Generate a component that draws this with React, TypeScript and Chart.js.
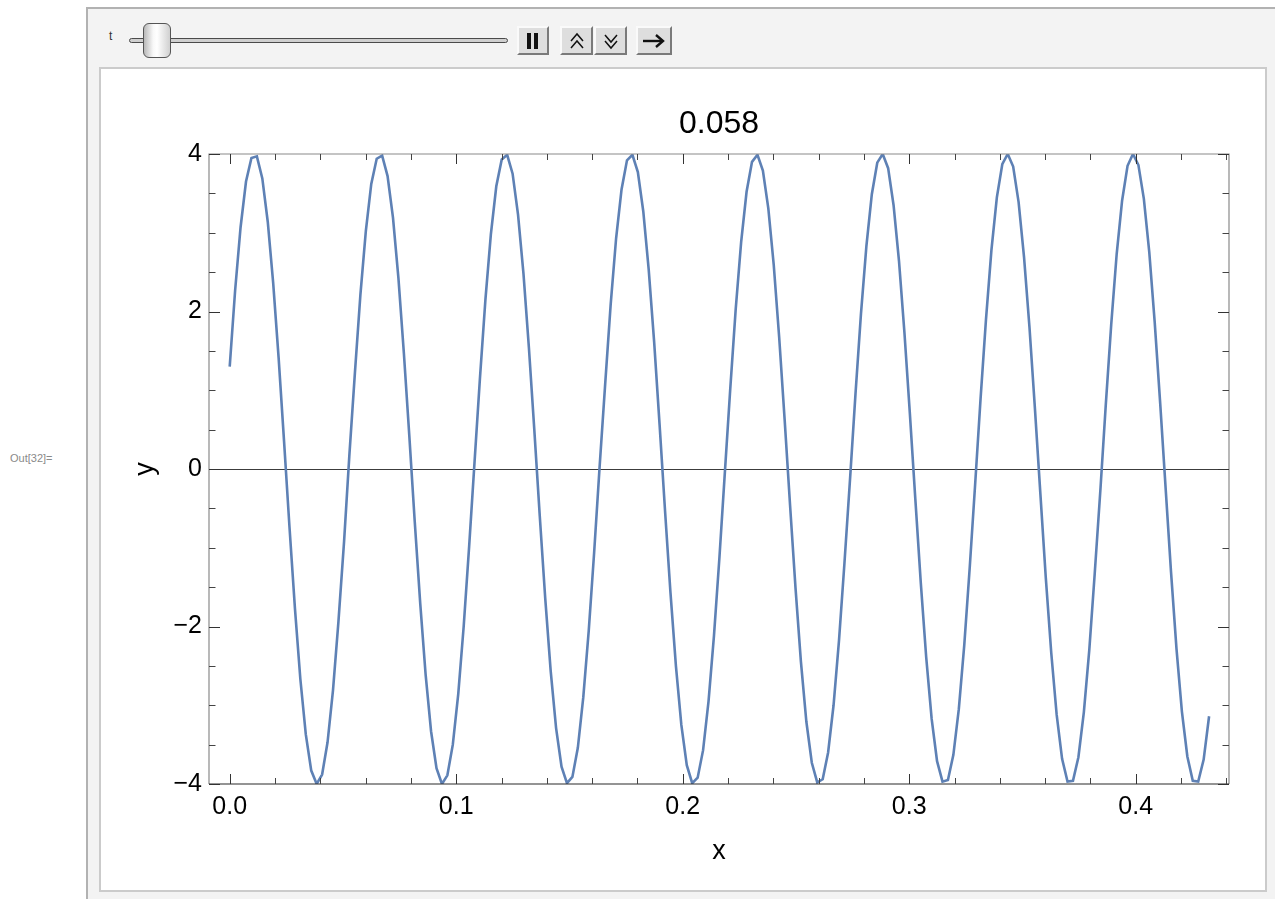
import React, { useEffect, useRef } from 'react';
import { Chart, registerables } from 'chart.js';

Chart.register(...registerables);

const FONT = '"Liberation Sans", Arial, Helvetica, sans-serif';

const TITLE = '0.058';
const X_LABEL = 'x';
const Y_LABEL = 'y';
const OUT_LABEL = 'Out[32]=';
const SLIDER_LABEL = 't';

// sample positions along x
const xValues = [
  0, 0.0024, 0.0048, 0.0072, 0.0096, 0.012, 0.0144, 0.0168, 0.0192, 0.0216,
  0.024, 0.0264, 0.0288, 0.0312, 0.0336, 0.036, 0.0384, 0.0408, 0.0432, 0.0456,
  0.048, 0.0505, 0.0528, 0.0553, 0.0577, 0.0601, 0.0625, 0.0649, 0.0673, 0.0697,
  0.0721, 0.0745, 0.0769, 0.0793, 0.0817, 0.0841, 0.0865, 0.0889, 0.0913, 0.0937,
  0.0961, 0.0985, 0.1009, 0.1033, 0.1057, 0.1081, 0.1105, 0.1129, 0.1153, 0.1177,
  0.1201, 0.1225, 0.1249, 0.1273, 0.1297, 0.1321, 0.1345, 0.1369, 0.1393, 0.1417,
  0.1441, 0.1465, 0.1489, 0.1513, 0.1537, 0.1561, 0.1585, 0.1609, 0.1633, 0.1658,
  0.1682, 0.1706, 0.173, 0.1754, 0.1778, 0.1802, 0.1826, 0.185, 0.1874, 0.1898,
  0.1922, 0.1946, 0.197, 0.1994, 0.2018, 0.2042, 0.2066, 0.209, 0.2114, 0.2138,
  0.2162, 0.2186, 0.221, 0.2234, 0.2258, 0.2282, 0.2306, 0.233, 0.2354, 0.2378,
  0.2402, 0.2426, 0.245, 0.2474, 0.2498, 0.2522, 0.2546, 0.257, 0.2594, 0.2618,
  0.2642, 0.2666, 0.269, 0.2714, 0.2739, 0.2763, 0.2787, 0.2811, 0.2835, 0.2859,
  0.2883, 0.2907, 0.2931, 0.2955, 0.2979, 0.3003, 0.3027, 0.3051, 0.3075, 0.3099,
  0.3123, 0.3147, 0.3171, 0.3195, 0.3219, 0.3243, 0.3267, 0.3291, 0.3315, 0.3339,
  0.3363, 0.3387, 0.3411, 0.3435, 0.3459, 0.3483, 0.3507, 0.3531, 0.3555, 0.3579,
  0.3603, 0.3627, 0.3651, 0.3675, 0.3699, 0.3723, 0.3747, 0.3771, 0.3795, 0.3819,
  0.3844, 0.3868, 0.3892, 0.3916, 0.394, 0.3964, 0.3988, 0.4012, 0.4036, 0.406,
  0.4084, 0.4108, 0.4132, 0.4156, 0.418, 0.4204, 0.4228, 0.4252, 0.4276, 0.43,
  0.4324,
];

// y values
const yValues = [
  1.3, 2.27, 3.07, 3.65, 3.95, 3.97, 3.69, 3.14, 2.36, 1.41,
  0.35, -0.74, -1.77, -2.67, -3.37, -3.83, -4.0, -3.88, -3.47, -2.81,
  -1.94, -0.92, 0.16, 1.23, 2.21, 3.02, 3.62, 3.94, 3.98, 3.72,
  3.19, 2.42, 1.47, 0.42, -0.67, -1.7, -2.61, -3.33, -3.8, -4.0,
  -3.89, -3.5, -2.86, -2.0, -0.99, 0.09, 1.16, 2.15, 2.98, 3.59,
  3.93, 3.99, 3.75, 3.23, 2.48, 1.54, 0.49, -0.6, -1.64, -2.56,
  -3.29, -3.78, -3.99, -3.91, -3.54, -2.9, -2.06, -1.06, 0.02, 1.09,
  2.09, 2.93, 3.55, 3.92, 3.99, 3.77, 3.27, 2.53, 1.61, 0.56,
  -0.53, -1.57, -2.5, -3.25, -3.76, -3.99, -3.92, -3.57, -2.95, -2.12,
  -1.13, -0.05, 1.02, 2.03, 2.88, 3.52, 3.9, 3.99, 3.79, 3.31,
  2.59, 1.67, 0.63, -0.46, -1.51, -2.45, -3.21, -3.73, -3.98, -3.94,
  -3.6, -3.0, -2.18, -1.2, -0.12, 0.96, 1.97, 2.83, 3.49, 3.89,
  4.0, 3.82, 3.35, 2.64, 1.73, 0.7, -0.38, -1.44, -2.39, -3.17,
  -3.71, -3.97, -3.95, -3.63, -3.05, -2.24, -1.26, -0.2, 0.89, 1.9,
  2.78, 3.45, 3.87, 4.0, 3.84, 3.39, 2.69, 1.8, 0.77, -0.31,
  -1.38, -2.33, -3.12, -3.68, -3.97, -3.96, -3.66, -3.09, -2.3, -1.33,
  -0.27, 0.82, 1.84, 2.73, 3.41, 3.85, 4.0, 3.86, 3.43, 2.75,
  1.86, 0.84, -0.24, -1.31, -2.28, -3.08, -3.65, -3.96, -3.97, -3.69,
  -3.14,
];

const xMajorTicks = [0, 0.1, 0.2, 0.3, 0.4];
const xMinorTicks = [
  0.02, 0.04, 0.06, 0.08, 0.12, 0.14, 0.16, 0.18, 0.22, 0.24, 0.26, 0.28,
  0.32, 0.34, 0.36, 0.38, 0.42, 0.44,
];
const yMajorTicks = [-4, -2, 0, 2, 4];
const yMinorTicks = [-3.5, -3, -2.5, -1.5, -1, -0.5, 0.5, 1, 1.5, 2.5, 3, 3.5];

const X_MIN = -0.00914;
const X_MAX = 0.44119;
const Y_MIN = -4;
const Y_MAX = 4;

const framePlugin = {
  id: 'mmaFrame',
  beforeDatasetsDraw(chart: any) {
    const { ctx, chartArea: a, scales } = chart;
    const y0 = Math.round(scales.y.getPixelForValue(0)) + 0.5;
    ctx.save();
    ctx.strokeStyle = '#3c3c3c';
    ctx.lineWidth = 1;
    ctx.beginPath();
    ctx.moveTo(a.left, y0);
    ctx.lineTo(a.right, y0);
    ctx.stroke();
    ctx.restore();
  },
  afterDatasetsDraw(chart: any) {
    const { ctx, chartArea: a, scales } = chart;
    const xs = scales.x;
    const ys = scales.y;
    ctx.save();
    ctx.lineWidth = 1.2;
    ctx.strokeStyle = '#8a8a8a';
    ctx.beginPath();
    ctx.moveTo(a.left, a.bottom);
    ctx.lineTo(a.left, a.top);
    ctx.lineTo(a.right, a.top);
    ctx.lineTo(a.right, a.bottom);
    ctx.stroke();
    ctx.strokeStyle = '#2a2a2a';
    ctx.beginPath();
    ctx.moveTo(a.left, a.bottom);
    ctx.lineTo(a.right, a.bottom);
    ctx.stroke();

    ctx.lineWidth = 1;
    const tickX = (v: number, len: number, color: string) => {
      const px = Math.round(xs.getPixelForValue(v)) + 0.5;
      ctx.strokeStyle = color;
      ctx.beginPath();
      ctx.moveTo(px, a.bottom);
      ctx.lineTo(px, a.bottom - len);
      ctx.moveTo(px, a.top);
      ctx.lineTo(px, a.top + len);
      ctx.stroke();
    };
    const tickY = (v: number, len: number, color: string) => {
      const py = Math.round(ys.getPixelForValue(v)) + 0.5;
      ctx.strokeStyle = color;
      ctx.beginPath();
      ctx.moveTo(a.left, py);
      ctx.lineTo(a.left + len, py);
      ctx.moveTo(a.right, py);
      ctx.lineTo(a.right - len, py);
      ctx.stroke();
    };
    xMajorTicks.forEach((v) => tickX(v, 10, '#333'));
    xMinorTicks.forEach((v) => tickX(v, 6, '#444'));
    yMajorTicks.forEach((v) => tickY(v, 11, '#333'));
    yMinorTicks.forEach((v) => tickY(v, 6.5, '#444'));
    ctx.restore();
  },
};

function ChevronIcon({ dir }: { dir: 'up' | 'down' }) {
  const pts1 = dir === 'up' ? '6,12 12,5 18,12' : '6,6 12,13 18,6';
  const pts2 = dir === 'up' ? '6,19 12,12 18,19' : '6,12 12,19 18,12';
  return (
    <svg width={24} height={24} viewBox="0 0 24 24">
      <polyline points={pts1} fill="none" stroke="#111" strokeWidth={1.5} />
      <polyline points={pts2} fill="none" stroke="#111" strokeWidth={1.5} />
    </svg>
  );
}

const btnStyle = (left: number, width: number): React.CSSProperties => ({
  position: 'absolute',
  left,
  top: 26,
  width,
  height: 29,
  boxSizing: 'border-box',
  background: '#dedede',
  borderTop: '2px solid #fafafa',
  borderLeft: '2px solid #fafafa',
  borderRight: '2px solid #7a7a7a',
  borderBottom: '2px solid #7a7a7a',
  display: 'flex',
  alignItems: 'center',
  justifyContent: 'center',
});

export default function App() {
  const canvasRef = useRef<HTMLCanvasElement>(null);

  useEffect(() => {
    const canvas = canvasRef.current;
    if (!canvas) return;
    const points = xValues.map((x, i) => ({ x, y: yValues[i] }));
    const chart = new Chart(canvas, {
      type: 'line',
      data: {
        datasets: [
          {
            data: points,
            borderColor: '#5e81b5',
            borderWidth: 2.6,
            pointRadius: 0,
            tension: 0,
            fill: false,
          },
        ],
      },
      options: {
        responsive: false,
        animation: false,
        events: [],
        layout: { padding: { left: 0, top: 0, right: 46, bottom: 0 } },
        plugins: {
          legend: { display: false },
          tooltip: { enabled: false },
          title: {
            display: true,
            text: TITLE,
            fullSize: false,
            color: '#000',
            font: { family: FONT, size: 32, weight: 'normal' },
            padding: { top: 104.5, bottom: 11.1 },
          },
        },
        scales: {
          x: {
            type: 'linear',
            min: X_MIN,
            max: X_MAX,
            afterFit: (s: any) => {
              s.height = 115;
            },
            afterBuildTicks: (s: any) => {
              s.ticks = xMajorTicks.map((v) => ({ value: v }));
            },
            grid: { display: false, drawTicks: false },
            border: { display: false },
            ticks: {
              autoSkip: false,
              maxRotation: 0,
              padding: 8,
              color: '#000',
              font: { family: FONT, size: 25 },
              callback: (v: any) => Number(v).toFixed(1),
            },
            title: {
              display: true,
              text: X_LABEL,
              color: '#000',
              font: { family: FONT, size: 27 },
              padding: { top: 0, bottom: 31.5 },
            },
          },
          y: {
            type: 'linear',
            min: Y_MIN,
            max: Y_MAX,
            afterFit: (s: any) => {
              s.width = 209;
            },
            afterBuildTicks: (s: any) => {
              s.ticks = yMajorTicks.map((v) => ({ value: v }));
            },
            grid: { display: false, drawTicks: false },
            border: { display: false },
            ticks: {
              autoSkip: false,
              padding: 7,
              color: '#000',
              font: { family: FONT, size: 25 },
              callback: (v: any) => {
                const n = Number(v);
                return n < 0 ? '\u2212' + Math.abs(n) : String(n);
              },
            },
            title: {
              display: true,
              text: Y_LABEL,
              color: '#000',
              font: { family: FONT, size: 27 },
              padding: { top: 129.5, bottom: 0 },
            },
          },
        },
      },
      plugins: [framePlugin],
    } as any);
    return () => chart.destroy();
  }, []);

  return (
    <div
      style={{
        position: 'fixed',
        left: 0,
        top: 0,
        width: 1275,
        height: 899,
        background: '#ffffff',
        overflow: 'hidden',
        fontFamily: FONT,
      }}
    >
      <div
        style={{
          position: 'absolute',
          left: 10,
          top: 452,
          fontSize: 11,
          color: '#8a8a8a',
          whiteSpace: 'nowrap',
        }}
      >
        {OUT_LABEL}
      </div>
      <div
        style={{
          position: 'absolute',
          left: 86,
          top: 7,
          width: 1220,
          height: 920,
          boxSizing: 'border-box',
          background: '#f3f3f3',
          borderLeft: '2px solid #b2b2b2',
          borderTop: '2px solid #b2b2b2',
        }}
      />
      <div style={{ position: 'absolute', left: 109, top: 29, fontSize: 12, color: '#333333' }}>
        {SLIDER_LABEL}
      </div>
      <div
        style={{
          position: 'absolute',
          left: 129,
          top: 38,
          width: 379,
          height: 5,
          boxSizing: 'border-box',
          border: '1px solid #4a4a4a',
          borderRadius: 3,
          background: '#cfcfcf',
        }}
      />
      <div
        style={{
          position: 'absolute',
          left: 143,
          top: 23,
          width: 28,
          height: 35,
          boxSizing: 'border-box',
          border: '1px solid #555',
          borderRadius: 6,
          background: 'linear-gradient(to right, #b8b8b8 0%, #f8f8f8 35%, #ffffff 50%, #d0d0d0 100%)',
        }}
      />
      <div style={btnStyle(517, 32)}>
        <svg width={20} height={20} viewBox="0 0 20 20">
          <rect x={4} y={2} width={4} height={16} fill="#111" />
          <rect x={11} y={2} width={4} height={16} fill="#111" />
        </svg>
      </div>
      <div style={btnStyle(560, 33)}>
        <ChevronIcon dir="up" />
      </div>
      <div style={btnStyle(594, 33)}>
        <ChevronIcon dir="down" />
      </div>
      <div style={btnStyle(636, 36)}>
        <svg width={28} height={20} viewBox="0 0 28 20">
          <line x1={3} y1={10} x2={22} y2={10} stroke="#111" strokeWidth={2.4} />
          <polyline points="16,4 23,10 16,16" fill="none" stroke="#111" strokeWidth={2.4} />
        </svg>
      </div>
      <div
        style={{
          position: 'absolute',
          left: 99,
          top: 67,
          width: 1168,
          height: 825,
          boxSizing: 'border-box',
          background: '#ffffff',
          border: '2px solid #cbcbcb',
        }}
      />
      <canvas
        ref={canvasRef}
        width={1275}
        height={899}
        style={{ position: 'absolute', left: 0, top: 0, width: 1275, height: 899 }}
      />
    </div>
  );
}
